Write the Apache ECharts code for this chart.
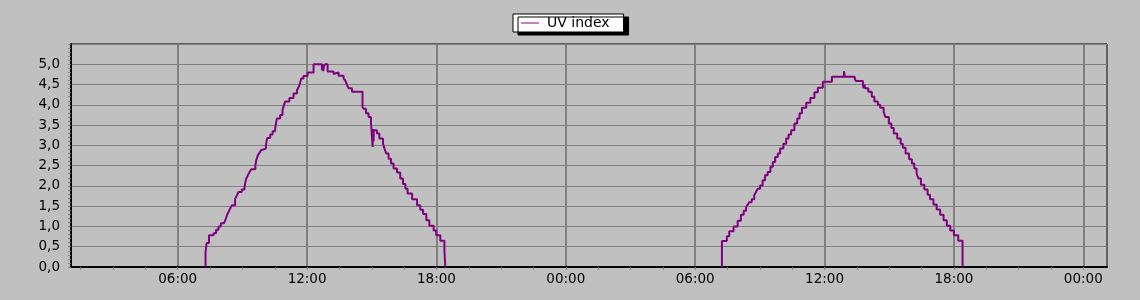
<!DOCTYPE html>
<html><head><meta charset="utf-8">
<script src="https://cdn.jsdelivr.net/npm/echarts@6/dist/echarts.min.js"></script>
<style>html,body{margin:0;padding:0;background:#c0c0c0}#c{width:1140px;height:300px}</style>
</head><body><div id="c"></div>
<script>
const seriesName = 'UV index';
// hours counted from 00:00 of the first day
const day1Hours = [7.29,7.29,7.34,7.45,7.66,7.78,7.89,8.00,8.15,8.23,8.30,8.35,8.43,8.51,8.66,8.74,8.82,8.97,9.10,9.13,9.18,9.25,9.33,9.41,9.60,9.64,9.72,9.80,9.86,9.95,10.09,10.12,10.15,10.29,10.40,10.52,10.56,10.60,10.75,10.86,10.92,10.98,11.18,11.37,11.53,11.62,11.68,11.73,11.83,12.02,12.30,12.69,12.72,12.75,12.78,12.84,12.95,13.23,13.27,13.46,13.69,13.77,13.85,13.92,14.08,14.57,14.62,14.73,14.85,14.96,15.04,15.06,15.08,15.10,15.24,15.35,15.52,15.59,15.67,15.78,15.89,16.01,16.17,16.32,16.45,16.56,16.66,16.87,17.10,17.25,17.38,17.53,17.67,17.87,17.99,18.18,18.37,18.41];
const day1Values = [0,0.36,0.59,0.78,0.83,0.92,1.00,1.08,1.12,1.19,1.30,1.35,1.44,1.52,1.68,1.76,1.85,1.91,1.97,2.08,2.18,2.26,2.34,2.41,2.50,2.63,2.76,2.82,2.88,2.92,3.00,3.10,3.18,3.27,3.35,3.42,3.55,3.66,3.75,3.87,3.98,4.08,4.17,4.28,4.36,4.45,4.55,4.65,4.71,4.80,5.00,4.85,5.00,4.83,4.95,5.00,4.82,4.76,4.80,4.72,4.65,4.60,4.49,4.41,4.32,3.95,3.90,3.79,3.70,3.58,2.96,3.40,3.10,3.37,3.29,3.17,3.04,2.92,2.80,2.67,2.55,2.43,2.33,2.18,2.05,1.93,1.81,1.67,1.52,1.41,1.31,1.15,1.02,0.90,0.78,0.65,0.41,0];
const day2Hours = [31.24,31.24,31.47,31.58,31.78,31.97,32.12,32.25,32.36,32.43,32.51,32.62,32.74,32.82,32.90,33.01,33.13,33.24,33.36,33.49,33.60,33.71,33.83,33.94,34.09,34.22,34.33,34.45,34.60,34.73,34.84,34.95,35.15,35.34,35.53,35.69,35.92,36.34,36.90,36.94,37.40,37.45,37.78,37.80,37.85,37.88,38.03,38.19,38.31,38.47,38.58,38.74,38.82,38.98,39.10,39.21,39.37,39.53,39.63,39.76,39.92,40.05,40.16,40.27,40.36,40.47,40.63,40.78,40.89,41.05,41.20,41.36,41.52,41.67,41.83,42.00,42.20,42.40];
const day2Values = [0,0.64,0.76,0.88,1.00,1.14,1.29,1.39,1.48,1.53,1.60,1.67,1.77,1.85,1.93,2.01,2.14,2.26,2.34,2.47,2.59,2.71,2.80,2.92,3.04,3.17,3.27,3.37,3.54,3.66,3.79,3.93,4.05,4.17,4.31,4.42,4.57,4.69,4.83,4.69,4.64,4.59,4.50,4.41,4.50,4.41,4.32,4.20,4.08,4.00,3.93,3.83,3.70,3.54,3.43,3.29,3.17,3.04,2.94,2.80,2.66,2.55,2.43,2.30,2.18,2.03,1.91,1.78,1.67,1.54,1.42,1.29,1.15,1.02,0.90,0.78,0.65,0];
const xLabelHours = [6,12,18,24,30,36,42,48];
const xMinorTickHours = [1.5,3,4.5,6,7.5,9,10.5,12,13.5,15,16.5,18,19.5,21,22.5,24,25.5,27,28.5,30,31.5,33,34.5,36,37.5,39,40.5,42,43.5,45,46.5,48];
const xMin = 1.05, xMax = 49.1;

const fmtHour = h => String(Math.round(h) % 24).padStart(2, '0') + ':00';
const font = 'DejaVu Sans';
const toPairs = (hs, vs) => hs.map((h, i) => [h, vs[i]]);

const chart = echarts.init(document.getElementById('c'));
chart.setOption({
  backgroundColor: '#c0c0c0',
  animation: false,
  textStyle: { fontFamily: font },
  legend: {
    left: 513, top: 14, padding: [1, 14, 1, 8],
    backgroundColor: '#ffffff', borderColor: '#000', borderWidth: 1,
    shadowColor: '#000', shadowBlur: 0, shadowOffsetX: 5, shadowOffsetY: 3,
    itemWidth: 18, itemHeight: 1, icon: 'rect',
    textStyle: { fontSize: 14, lineHeight: 16, color: '#000', fontFamily: font, padding: [0, 0, 0, 3] },
    data: [seriesName]
  },
  grid: {
    left: 71, right: 33, top: 44, bottom: 33,
    show: true, borderColor: '#000', borderWidth: 1, backgroundColor: 'transparent'
  },
  xAxis: [{
    type: 'value', min: xMin, max: xMax, position: 'bottom',
    axisLine: { show: true, onZero: false, lineStyle: { color: '#000', width: 2 } },
    axisTick: { show: false, customValues: xLabelHours },
    axisLabel: { customValues: xLabelHours, formatter: fmtHour, margin: 5, color: '#000', fontSize: 13.5, fontFamily: font },
    splitLine: { show: true, lineStyle: { color: '#808080', width: 2 } }
  }, {
    type: 'value', min: xMin, max: xMax, position: 'bottom',
    axisLine: { show: false },
    axisTick: { show: true, customValues: xMinorTickHours, length: 3, lineStyle: { color: '#808080', width: 1 } },
    axisLabel: { show: false },
    splitLine: { show: false }
  }],
  yAxis: {
    type: 'value', min: 0, max: 5.5, interval: 0.5,
    axisLine: { show: true, lineStyle: { color: '#000', width: 2 } },
    axisTick: { show: true, length: 3, lineStyle: { color: '#808080' } },
    minorTick: { show: true, splitNumber: 5, length: 3, lineStyle: { color: '#808080' } },
    axisLabel: { showMaxLabel: false, margin: 11, color: '#000', fontSize: 13.5, fontFamily: font,
      formatter: v => v.toFixed(1).replace('.', ',') },
    splitLine: { show: true, lineStyle: { color: '#808080', width: 1 } }
  },
  series: [toPairs(day1Hours, day1Values), toPairs(day2Hours, day2Values)].map(d => ({
    type: 'line', name: seriesName, xAxisIndex: 0, data: d, step: 'end',
    symbol: 'none', z: 3,
    lineStyle: { color: '#800080', width: 2 }, itemStyle: { color: '#800080' }
  }))
});
</script></body></html>
